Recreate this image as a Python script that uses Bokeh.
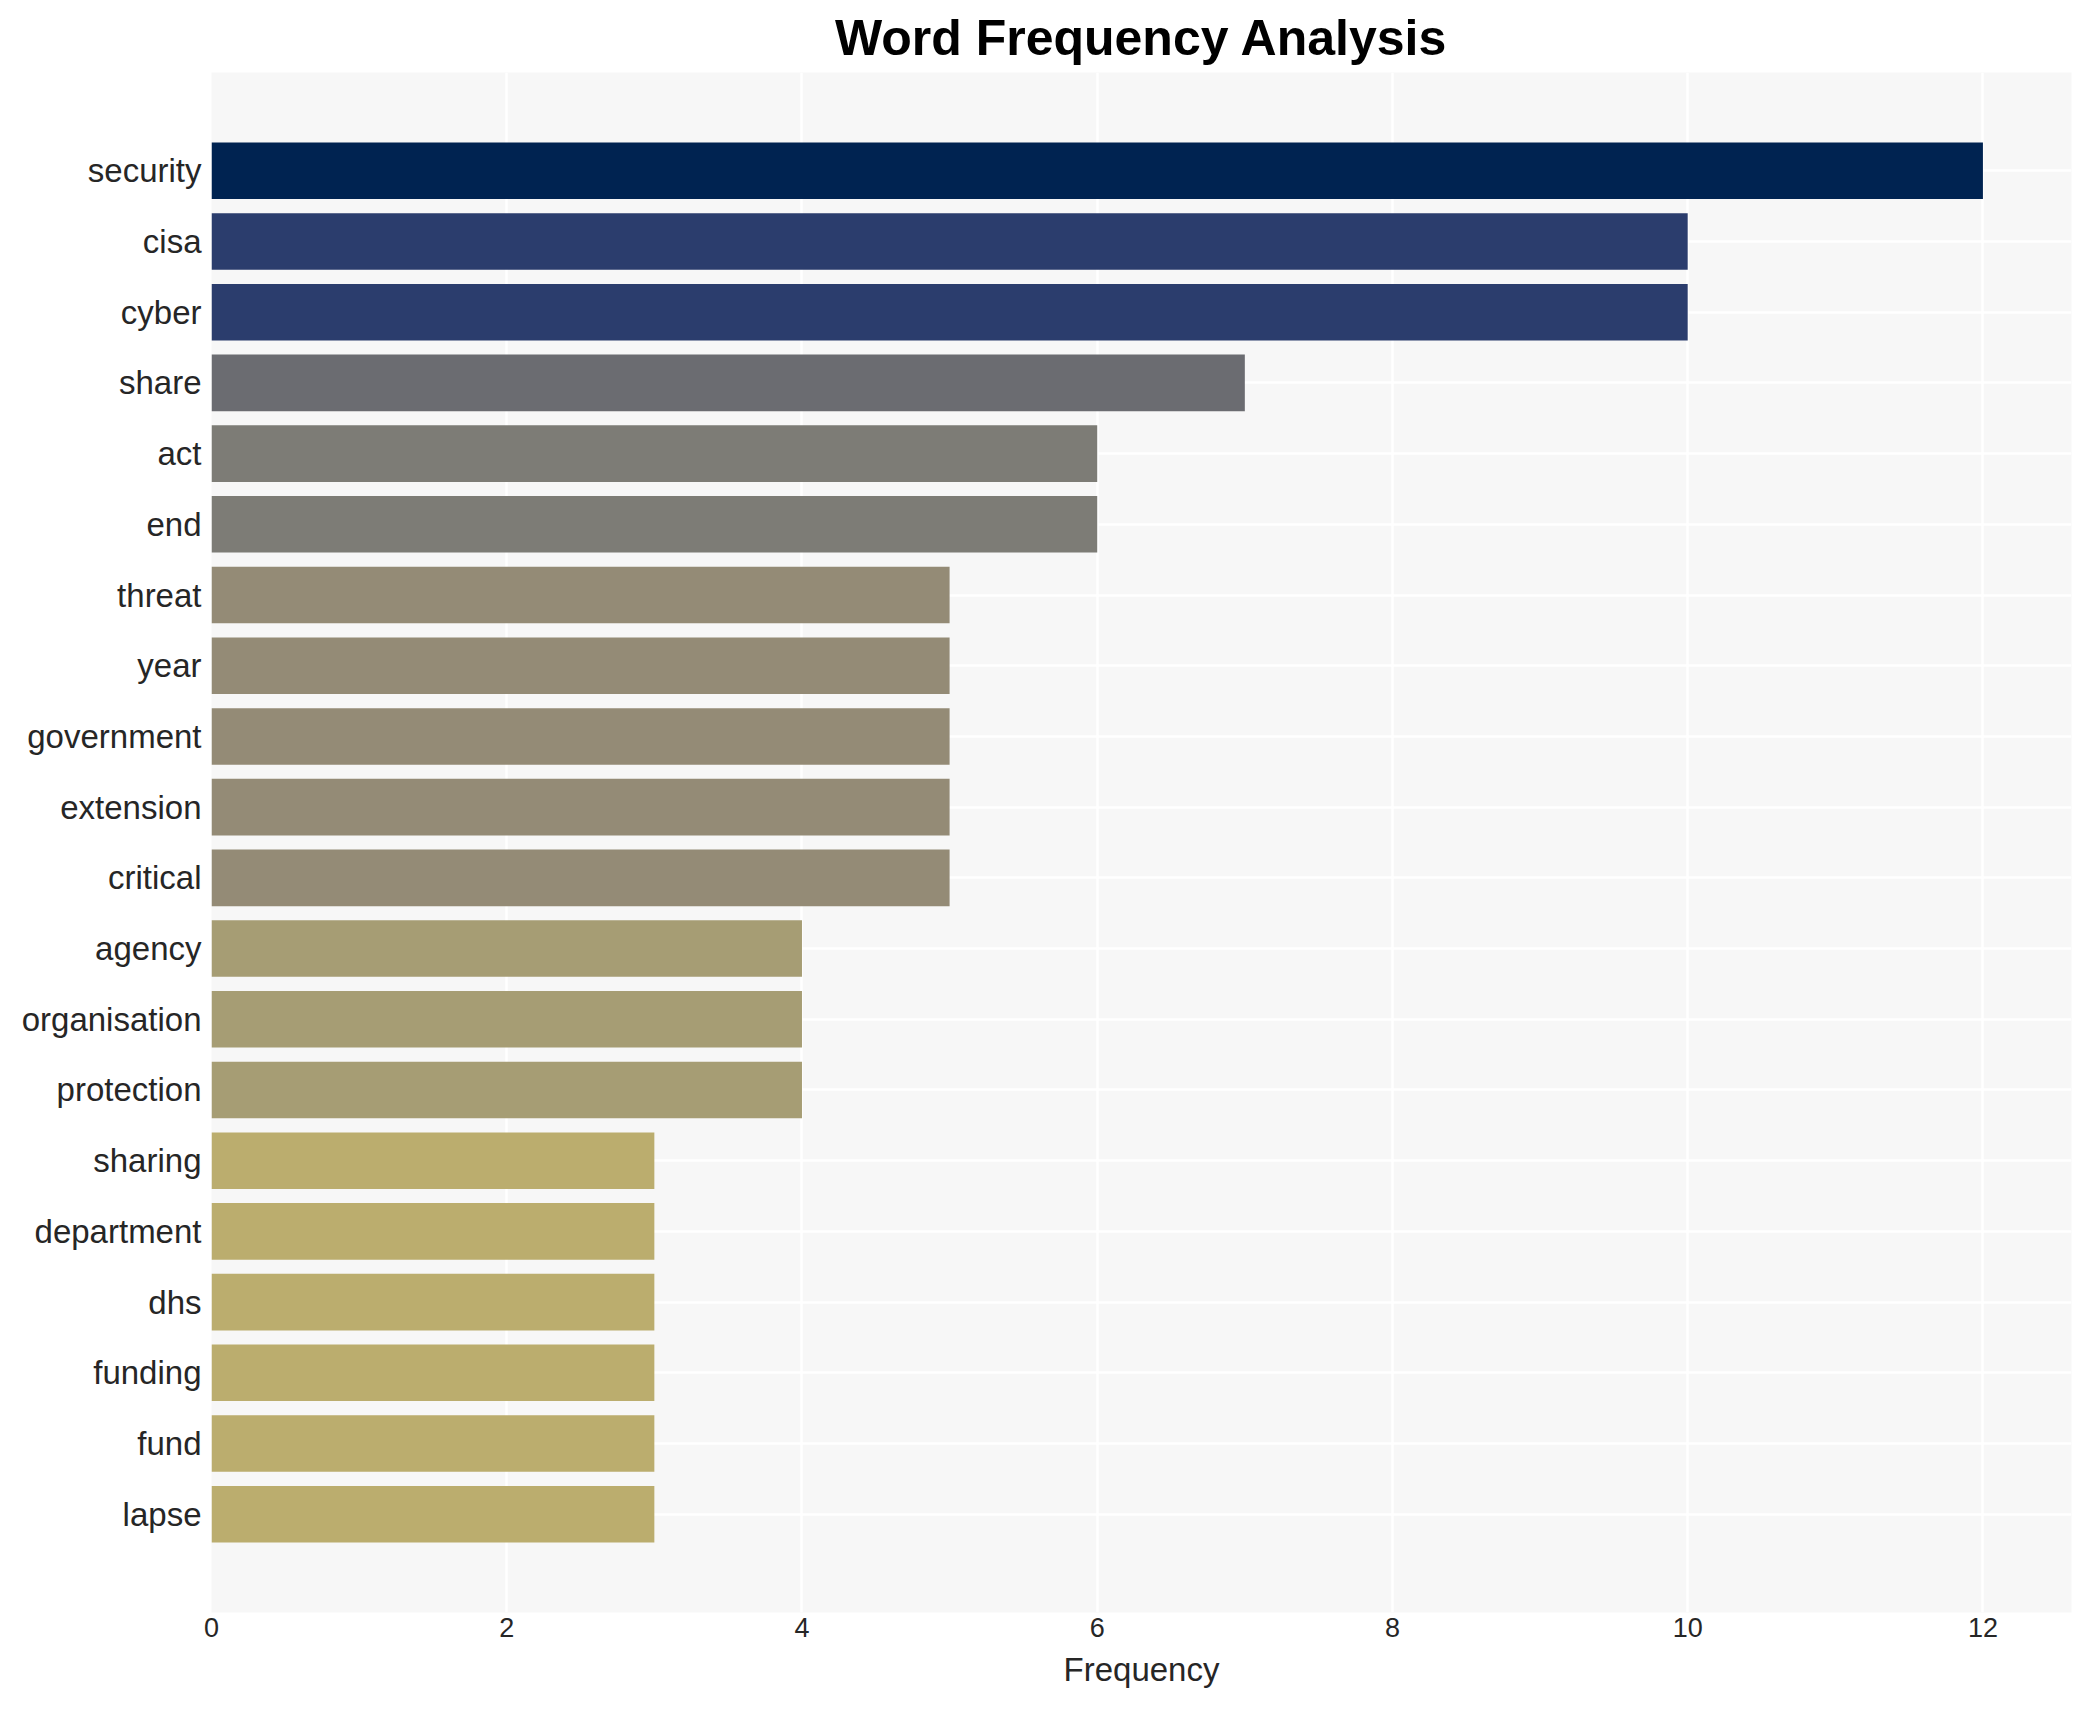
from bokeh.plotting import figure
from bokeh.models import ColumnDataSource, Range1d, FactorRange, SingleIntervalTicker
from bokeh.embed import file_html
from bokeh.resources import INLINE

words = ["security", "cisa", "cyber", "share", "act", "end", "threat", "year",
         "government", "extension", "critical", "agency", "organisation",
         "protection", "sharing", "department", "dhs", "funding", "fund", "lapse"]
counts = [12, 10, 10, 7, 6, 6, 5, 5, 5, 5, 5, 4, 4, 4, 3, 3, 3, 3, 3, 3]

# colour per count, dark navy for the top word down to khaki
palette = {12: "#002351", 10: "#2b3d6d", 7: "#6b6c71", 6: "#7d7c76",
           5: "#948b76", 4: "#a69d74", 3: "#bbad6e"}
bar_colors = [palette[c] for c in counts]

source = ColumnDataSource(data=dict(word=words, count=counts, color=bar_colors))

font = "Liberation Sans"
text_color = "#262626"

p = figure(width=2075, height=1694,
           y_range=FactorRange(factors=words[::-1], range_padding=0.089,
                               range_padding_units="percent"),
           x_range=Range1d(0, 12.6),
           title="Word Frequency Analysis",
           output_backend="svg", toolbar_location=None,
           min_border_left=211, min_border_right=4,
           min_border_top=72, min_border_bottom=82)

p.hbar(y="word", right="count", left=0, height=0.8, color="color",
       line_color=None, source=source)

p.background_fill_color = "#f7f7f7"
p.border_fill_color = "white"
p.outline_line_color = None

p.title.text_font = font
p.title.text_font_size = "50px"
p.title.text_font_style = "bold"
p.title.text_color = "black"
p.title.align = "center"
p.title.standoff = 14

p.xaxis.ticker = SingleIntervalTicker(interval=2)
p.xaxis.axis_label = "Frequency"
p.xaxis.axis_label_text_font = font
p.xaxis.axis_label_text_font_size = "33px"
p.xaxis.axis_label_text_font_style = "normal"
p.xaxis.axis_label_text_color = text_color
p.xaxis.axis_label_standoff = 11
p.xaxis.major_label_text_font_size = "27px"
p.xaxis.major_label_standoff = 1

p.yaxis.major_label_text_font_size = "33px"
p.yaxis.major_label_standoff = 10

for ax in [p.xaxis, p.yaxis]:
    ax.major_label_text_font = font
    ax.major_label_text_color = text_color
    ax.axis_line_color = None
    ax.major_tick_line_color = None
    ax.minor_tick_line_color = None
    ax.major_tick_out = 0
    ax.major_tick_in = 0

p.grid.grid_line_color = "white"
p.grid.grid_line_width = 2.5

open("out.html", "w").write(file_html(p, INLINE))
